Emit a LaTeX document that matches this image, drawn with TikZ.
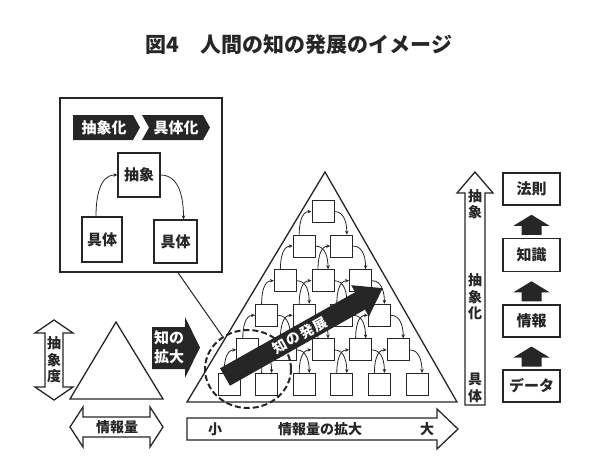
\documentclass[tikz,border=0pt]{standalone}
\usepackage{fontspec}
\newfontfamily\jp{Noto Sans CJK JP}
\usetikzlibrary{shapes.geometric,arrows.meta,calc}
\definecolor{ink}{gray}{0.15}
\begin{document}
\begin{tikzpicture}[x=1pt,y=-1pt,
  every node/.style={font=\jp\bfseries\fontsize{14}{16}\selectfont, text=ink},
  sbox/.style={draw=ink, line width=1pt, fill=white, minimum size=22pt, inner sep=0pt},
  lbox/.style={draw=ink, line width=1.3pt, fill=white, inner sep=0pt, font=\jp\bfseries\fontsize{15}{15}\selectfont},
  arc/.style={draw=ink, -{Stealth[length=4pt,width=3.5pt]}, line width=0.8pt},
  outline/.style={draw=ink, line width=1.3pt, fill=white, line join=miter},
  blk/.style={fill=ink},
  wtext/.style={text=white},
  vtext/.style={align=center, font=\jp\bfseries\fontsize{14}{16.5}\selectfont}
]
\path[use as bounding box] (0,0) rectangle (598,467);

% title
\node (title) at (299,45) {\fontsize{21}{21}\selectfont 図4\hspace{1em}人間の知の発展のイメージ};

% ---------- inset box ----------
\node[draw=ink, line width=1.4pt, minimum width=162pt, minimum height=174pt, inner sep=0pt] (inset) at (141,185) {};
\fill[blk] (73,115)--(133,115)--(140,127.5)--(133,140)--(73,140)--cycle;
\fill[blk] (142,115)--(203,115)--(210,127.5)--(203,140)--(142,140)--(149,127.5)--cycle;
\node[wtext] (lab1) at (104,127.5) {\fontsize{15}{15}\selectfont 抽象化};
\node[wtext] (lab2) at (176,127.5) {\fontsize{15}{15}\selectfont 具体化};
\node[lbox, minimum width=42pt, minimum height=44pt] (abs) at (139,175) {抽象};
\node[lbox, minimum width=40pt, minimum height=45pt] (con1) at (102,239.5) {具体};
\node[lbox, minimum width=43pt, minimum height=43pt] (con2) at (175.5,241.5) {具体};
\draw[arc] ([xshift=-6pt]con1.north) to[out=90,in=180] (abs.west);
\draw[arc] (abs.east) to[out=0,in=90] ([xshift=8pt]con2.north);

% ---------- big pyramid ----------
\draw[draw=ink, line width=1.3pt, line join=miter] (187,402) -- (325,172) -- (457,402) -- cycle;
\foreach \r in {1,...,6}{
  \foreach \c in {1,...,\r}{
    \node[sbox] (b\r\c) at ({323-(\r-1)*18.8+(\c-1)*37.6},{211.5+(\r-1)*34.6}) {};
  }
}
\foreach \r [evaluate=\r as \rr using int(\r+1)] in {1,...,5}{
  \foreach \c [evaluate=\c as \cc using int(\c+1)] in {1,...,\r}{
    \draw[arc] ([xshift=-5pt]b\rr\c.north) to[out=90,in=180] (b\r\c.west);
    \draw[arc] (b\r\c.east) to[out=0,in=90] ([xshift=5pt]b\rr\cc.north);
  }
}

% dashed circle and link line
\node[ellipse, draw=ink, line width=2pt, dash pattern=on 6pt off 3pt, minimum width=86pt, minimum height=78pt] (circ) at (248,369) {};
\draw[draw=ink, line width=1pt] ([xshift=37pt]inset.south) -- (circ.128);

% big arrow
\begin{scope}[shift={(225,377)}, rotate=29.4]
  \fill[blk] (0,-10)--(155,-10)--(155,-18)--(181,0)--(155,18)--(155,10)--(0,10)--cycle;
\end{scope}
\node[wtext, rotate=29.4] (dev) at (300,335) {\fontsize{14}{14}\selectfont 知\hspace{1pt}の\hspace{1pt}発\hspace{1pt}展};

% ---------- left small triangle ----------
\draw[draw=ink, line width=1.3pt, line join=miter] (70,399)--(116,322)--(163,399)--cycle;
\path[outline] (54,320)--(73,333)--(63,333)--(63,387)--(73,387)--(54,400)--(35,387)--(45,387)--(45,333)--(35,333)--cycle;
\node[vtext] (deg) at (54,360) {抽\\象\\度};
\path[outline] (70,427)--(83,407)--(83,417)--(150,417)--(150,407)--(163,427)--(150,447)--(150,437)--(83,437)--(83,447)--cycle;
\node (qty) at (117,427) {情報量};

% 知の拡大 arrow
\fill[blk] (152,327)--(185,327)--(185,317)--(200,347.5)--(185,378)--(185,369)--(152,369)--cycle;
\node[wtext, align=center, font=\jp\bfseries\fontsize{15}{19}\selectfont] (exp) at (169,347) {知の\\拡大};

% ---------- bottom arrow ----------
\path[outline] (187,418)--(437,418)--(437,409)--(458,429)--(437,449)--(437,440)--(187,440)--cycle;
\node (small) at (215,429) {小};
\node (grow) at (320,429) {情報量の拡大};
\node (big) at (427,429) {大};

% ---------- right vertical arrow ----------
\path[outline] (465,405)--(465,193)--(457,193)--(475,172)--(493,193)--(485,193)--(485,405)--cycle;
\node[vtext] (ra1) at (475,204) {抽\\象};
\node[vtext] (ra2) at (475,297) {抽\\象\\化};
\node[vtext] (ra3) at (475,388) {具\\体};

% ---------- right boxes ----------
\node[lbox, minimum width=57pt, minimum height=32pt] (law) at (531.5,189) {法則};
\node[lbox, minimum width=57pt, minimum height=33pt] (know) at (531.5,255) {知識};
\node[lbox, minimum width=57pt, minimum height=32pt] (info) at (531.5,321) {情報};
\node[lbox, minimum width=57pt, minimum height=32pt] (data) at (531.5,386) {データ};
\foreach \lo/\hi in {data/info, info/know, know/law}{
  \begin{scope}[shift={($(\lo.north)!0.5!(\hi.south)+(0,3)$)}]
    \fill[blk] (0,-10)--(18,1)--(10,1)--(10,10)--(-10,10)--(-10,1)--(-18,1)--cycle;
  \end{scope}
}
\end{tikzpicture}
\end{document}
